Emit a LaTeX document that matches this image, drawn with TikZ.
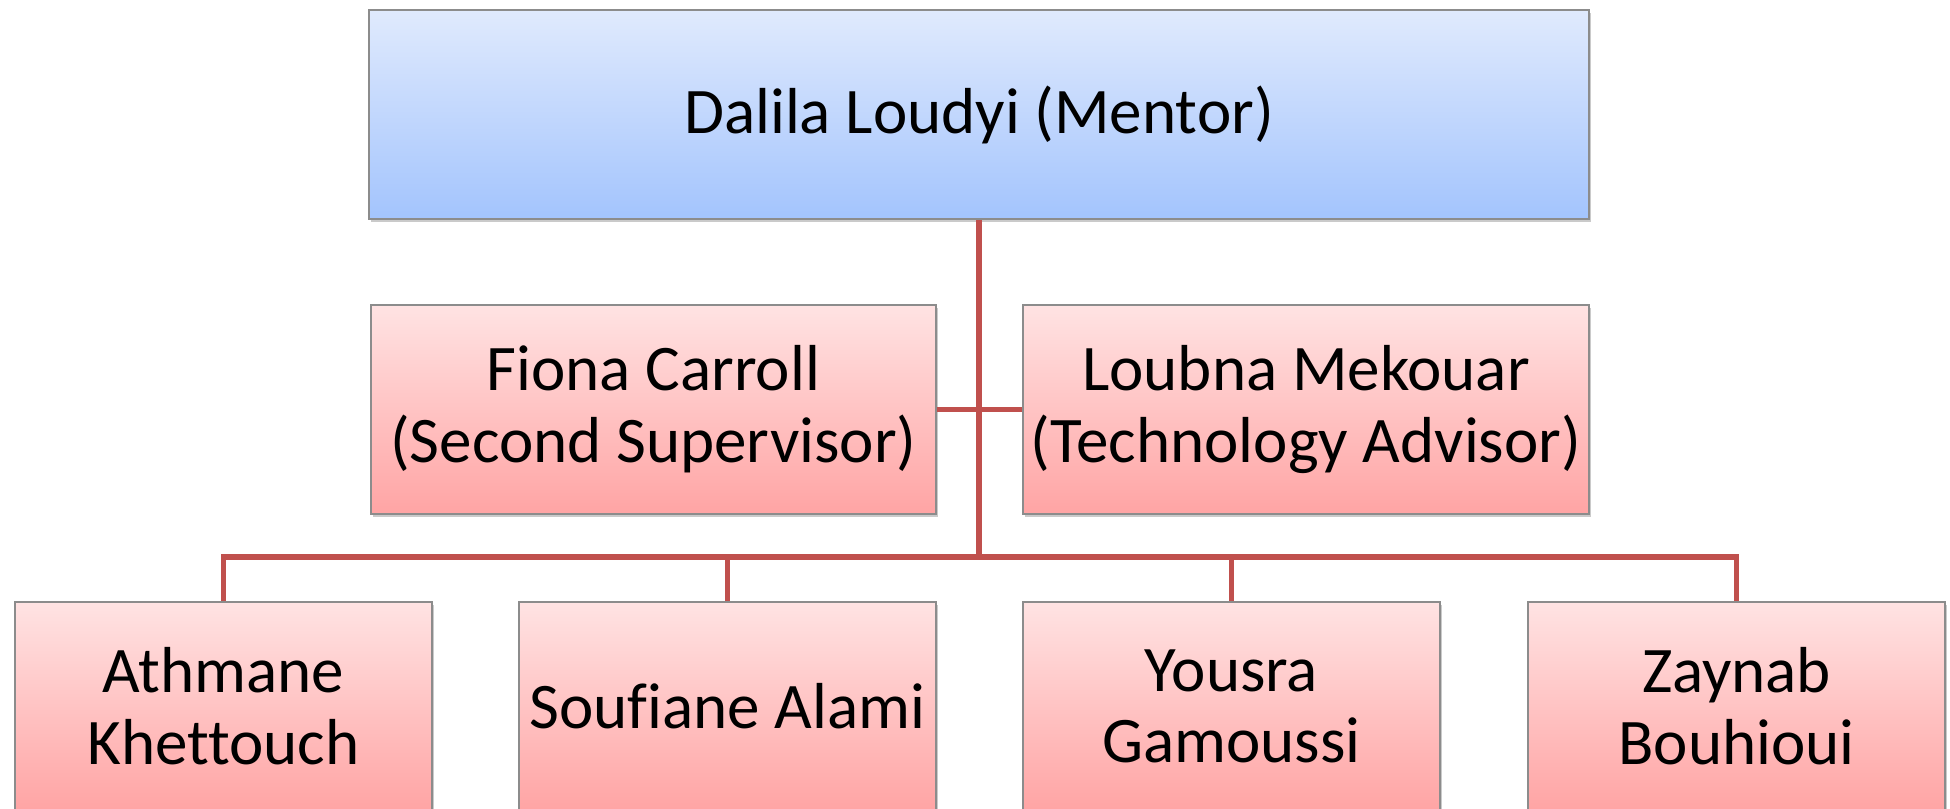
\documentclass[tikz,border=0pt]{standalone}
\usepackage{fontspec}
\setmainfont{Carlito}[Ligatures=NoCommon]
\usepackage{tikz}
\usetikzlibrary{shadows,calc}
\definecolor{linkred}{RGB}{192,80,77}
\definecolor{blueTop}{RGB}{224,234,253}
\definecolor{blueBot}{RGB}{163,196,253}
\definecolor{pinkTop}{RGB}{255,227,227}
\definecolor{pinkBot}{RGB}{255,164,164}
\definecolor{boxline}{RGB}{140,140,140}

\begin{document}
\begin{tikzpicture}[
  box/.style={draw=boxline, line width=0.5pt, align=center, inner sep=0pt,
    minimum height=2.09cm, font=\fontsize{18.5}{20.4}\selectfont,
    drop shadow={shadow xshift=0.6pt, shadow yshift=-0.9pt, fill=black!35, opacity=0.6}},
  headbox/.style={box, top color=blueTop, bottom color=blueBot, minimum width=12.2cm},
  staffbox/.style={box, top color=pinkTop, bottom color=pinkBot},
  link/.style={draw=linkred, line width=1.6pt}
]
\useasboundingbox (0,0) rectangle (19.5,8.09);
\clip (0,0) rectangle (19.5,8.09);

\node[headbox] (mentor) at (9.79,6.945) {Dalila Loudyi (Mentor)};

\node[staffbox, minimum width=5.65cm] (fiona) at (6.535,3.995) {Fiona Carroll\\(Second Supervisor)};
\node[staffbox, minimum width=5.66cm] (loubna) at (13.06,3.995) {Loubna Mekouar\\(Technology Advisor)};

\node[staffbox, minimum width=4.17cm] (athmane) at (2.235,1.025) {Athmane\\Khettouch};
\node[staffbox, minimum width=4.17cm] (soufiane) at (7.275,1.025) {Soufiane Alami};
\node[staffbox, minimum width=4.17cm] (yousra) at (12.315,1.025) {Yousra\\Gamoussi};
\node[staffbox, minimum width=4.17cm] (zaynab) at (17.365,1.025) {Zaynab\\Bouhioui};

\coordinate (bus) at (mentor.south |- 0,2.52);

\draw[link] (mentor.south) -- (bus);
\draw[link] (fiona.east) -- (loubna.west);
\draw[link] (athmane.north) |- (bus) -| (zaynab.north);
\draw[link] (soufiane.north) -- (soufiane.north |- bus);
\draw[link] (yousra.north) -- (yousra.north |- bus);
\end{tikzpicture}
\end{document}
